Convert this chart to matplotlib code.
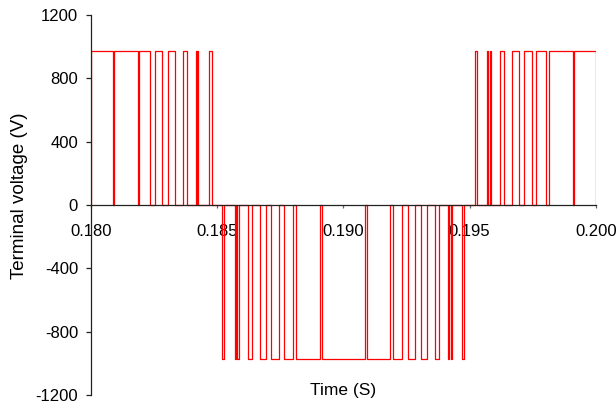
import matplotlib
matplotlib.use("Agg")
import matplotlib.pyplot as plt
import numpy as np

plt.rcParams.update({
    "font.family": ["Liberation Sans", "DejaVu Sans"],
    "font.size": 12,
})

# DC-link level seen at the terminal (V)
V_DC = 973.0
T_START, T_END = 0.180, 0.200

# switching instants (s): each pair is (turn on, turn off)
pos_pulses = [
    (0.180000, 0.180871), (0.180935, 0.181861), (0.181925, 0.182349),
    (0.182547, 0.182824), (0.183073, 0.183350), (0.183644, 0.183802),
    (0.184170, 0.184198), (0.184222, 0.184261), (0.184697, 0.184792),
    (0.195192, 0.195287), (0.195695, 0.195735), (0.195786, 0.195834),
    (0.196182, 0.196376), (0.196673, 0.196943), (0.197160, 0.197465),
    (0.197636, 0.198032), (0.198123, 0.199089), (0.199140, 0.200000),
]
neg_pulses = [
    (0.185188, 0.185267), (0.185695, 0.185735), (0.185806, 0.185853),
    (0.186210, 0.186376), (0.186717, 0.186943), (0.187152, 0.187457),
    (0.187655, 0.188020), (0.188119, 0.189081), (0.189149, 0.190863),
    (0.190943, 0.191853), (0.191984, 0.192317), (0.192547, 0.192836),
    (0.193069, 0.193307), (0.193636, 0.193794), (0.194139, 0.194190),
    (0.194242, 0.194289), (0.194705, 0.194772),
]

x_ticks = [0.180, 0.185, 0.190, 0.195, 0.200]
y_ticks = [-1200, -800, -400, 0, 400, 800, 1200]

# build the stepped waveform from the pulse edges
edges = [(on, off, V_DC) for on, off in pos_pulses] + \
        [(on, off, -V_DC) for on, off in neg_pulses]
edges.sort()
t, v = [T_START], [0.0]
for on, off, lvl in edges:
    t += [on, on, off, off]
    v += [0.0, lvl, lvl, 0.0]
t.append(T_END)
v.append(v[-1])
t, v = np.array(t), np.array(v)

fig = plt.figure(figsize=(6.16, 4.09), dpi=100)
ax = fig.add_axes([0.1472, 0.0342, 0.8203, 0.9291])

ax.plot(t, v, color="#ff0000", lw=0.9)

ax.set_xlim(T_START, T_END)
ax.set_ylim(-1200, 1200)
ax.set_xticks(x_ticks)
ax.set_xticklabels([f"{x:.3f}" for x in x_ticks])
ax.set_yticks(y_ticks)
ax.set_yticklabels([str(y) for y in y_ticks])

ax.spines["top"].set_visible(False)
ax.spines["right"].set_visible(False)
ax.spines["bottom"].set_position(("data", 0))
for s in ("left", "bottom"):
    ax.spines[s].set_linewidth(0.9)
    ax.spines[s].set_color("#222222")

ax.tick_params(axis="y", direction="out", length=3.6, width=0.9, pad=5.5,
               colors="#222222", labelcolor="black")
ax.tick_params(axis="x", direction="out", length=2.5, width=0.9, pad=11,
               colors="#666666", labelcolor="black")

ax.set_ylabel("Terminal voltage (V)", fontsize=13.5)
ax.yaxis.set_label_coords(-0.125, 0.525)
ax.set_xlabel("Time (S)", fontsize=12.5)
ax.xaxis.set_label_coords(0.5, 0.032)

fig.savefig("out.png", dpi=100, facecolor="white")
